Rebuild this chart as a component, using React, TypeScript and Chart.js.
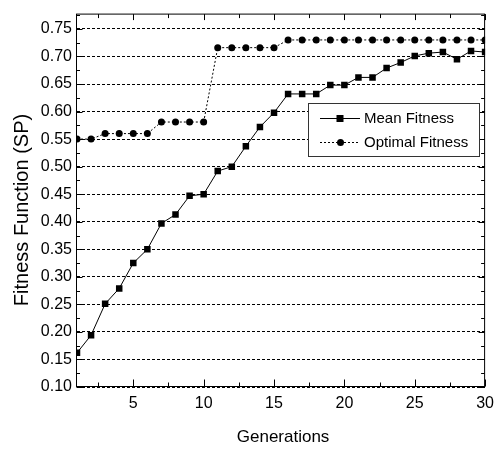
import React, { useEffect, useRef } from 'react';
import { Chart, registerables } from 'chart.js';

Chart.register(...registerables);

const generations = [1, 2, 3, 4, 5, 6, 7, 8, 9, 10, 11, 12, 13, 14, 15, 16, 17, 18, 19, 20, 21, 22, 23, 24, 25, 26, 27, 28, 29, 30];
const meanFitness = [0.162, 0.194, 0.251, 0.279, 0.325, 0.350, 0.397, 0.413, 0.447, 0.450, 0.492, 0.500, 0.537, 0.572, 0.598, 0.632, 0.632, 0.632, 0.648, 0.648, 0.662, 0.662, 0.679, 0.689, 0.701, 0.706, 0.708, 0.695, 0.710, 0.708];
const optimalFitness = [0.550, 0.550, 0.560, 0.560, 0.560, 0.560, 0.581, 0.581, 0.581, 0.581, 0.716, 0.716, 0.716, 0.716, 0.716, 0.730, 0.730, 0.730, 0.730, 0.730, 0.730, 0.730, 0.730, 0.730, 0.730, 0.730, 0.730, 0.730, 0.730, 0.730];

const seriesNames = ['Mean Fitness', 'Optimal Fitness'];
const xTitle = 'Generations';
const yTitle = 'Fitness Function (SP)';

const yTickValues = [0.10, 0.15, 0.20, 0.25, 0.30, 0.35, 0.40, 0.45, 0.50, 0.55, 0.60, 0.65, 0.70, 0.75];
const yMinorTicks = [0.125, 0.175, 0.225, 0.275, 0.325, 0.375, 0.425, 0.475, 0.525, 0.575, 0.625, 0.675, 0.725, 0.775];
const xTickValues = [5, 10, 15, 20, 25, 30];
const xMinorTicks = [2.5, 7.5, 12.5, 17.5, 22.5, 27.5];

const FONT = "'Liberation Sans', Arial, Helvetica, sans-serif";

const decorPlugin = {
  id: 'decor',
  afterDraw(chart: any) {
    const ctx = chart.ctx;
    const { left, right, top, bottom } = chart.chartArea;
    const xs = chart.scales.x;
    const ys = chart.scales.y;
    ctx.save();
    ctx.strokeStyle = '#000';
    ctx.lineWidth = 1;
    ctx.setLineDash([]);
    // frame
    ctx.strokeRect(left - 0.5, top - 0.5, right - left, bottom - top);
    // ticks
    const line = (x1: number, y1: number, x2: number, y2: number) => {
      ctx.beginPath();
      ctx.moveTo(x1, y1);
      ctx.lineTo(x2, y2);
      ctx.stroke();
    };
    yTickValues.forEach((v) => {
      const py = Math.round(ys.getPixelForValue(v)) + 0.5;
      line(left - 0.5, py, left + 5.5, py);
      line(right - 0.5, py, right - 6.5, py);
    });
    yMinorTicks.forEach((v) => {
      const py = Math.round(ys.getPixelForValue(v)) + 0.5;
      if (py < top) return;
      line(left - 0.5, py, left + 3, py);
      line(right - 0.5, py, right - 4, py);
    });
    xTickValues.forEach((v) => {
      const px = Math.round(xs.getPixelForValue(v)) + 0.5;
      line(px, bottom - 0.5, px, bottom - 7.5);
      line(px, top - 0.5, px, top + 5.5);
    });
    xMinorTicks.forEach((v) => {
      const px = Math.round(xs.getPixelForValue(v)) + 0.5;
      line(px, bottom - 0.5, px, bottom - 4.5);
      line(px, top - 0.5, px, top + 3.5);
    });

    // axis titles
    ctx.fillStyle = '#000';
    ctx.textAlign = 'center';
    ctx.textBaseline = 'middle';
    ctx.font = `17px ${FONT}`;
    ctx.fillText(xTitle, (left + right) / 2 + 2, 437);
    ctx.save();
    ctx.translate(22, 210);
    ctx.rotate(-Math.PI / 2);
    ctx.font = `20px ${FONT}`;
    ctx.fillText(yTitle, 0, 0);
    ctx.restore();

    // legend
    const bx = 308.5, by = 103.5, bw = 171, bh = 53;
    ctx.fillStyle = '#fff';
    ctx.fillRect(bx, by, bw, bh);
    ctx.strokeStyle = '#333';
    ctx.strokeRect(bx, by, bw, bh);
    const rows = [
      { y: 118, dash: [] as number[], style: 'rect', r: 4.6 },
      { y: 142, dash: [2, 2], style: 'circle', r: 3.5 },
    ];
    rows.forEach((row, i) => {
      ctx.strokeStyle = '#000';
      ctx.setLineDash(row.dash);
      line(320, row.y + 0.5, 360, row.y + 0.5);
      ctx.setLineDash([]);
      ctx.fillStyle = '#000';
      if (row.style === 'rect') {
        ctx.fillRect(340 - 3.5, row.y - 3, 7, 7);
      } else {
        ctx.beginPath();
        ctx.arc(340.5, row.y + 0.5, row.r, 0, Math.PI * 2);
        ctx.fill();
      }
      ctx.textAlign = 'left';
      ctx.textBaseline = 'middle';
      ctx.font = `15px ${FONT}`;
      ctx.fillText(seriesNames[i], 364, row.y + 1);
    });
    ctx.restore();
  },
};

export default function App() {
  const ref = useRef<HTMLCanvasElement | null>(null);
  useEffect(() => {
    document.body.style.margin = '0';
    const canvas = ref.current;
    if (!canvas) return;
    const chart = new Chart(canvas, {
      type: 'line',
      data: {
        datasets: [
          {
            label: seriesNames[0],
            data: generations.map((g, i) => ({ x: g, y: meanFitness[i] })),
            borderColor: '#000',
            backgroundColor: '#000',
            borderWidth: 1,
            pointStyle: 'rect',
            pointRadius: 4.6,
            pointBorderWidth: 0,
            tension: 0,
            clip: 0,
          },
          {
            label: seriesNames[1],
            data: generations.map((g, i) => ({ x: g, y: optimalFitness[i] })),
            borderColor: '#000',
            backgroundColor: '#000',
            borderWidth: 1,
            borderDash: [2, 2],
            pointStyle: 'circle',
            pointRadius: 3.5,
            pointBorderWidth: 0,
            tension: 0,
            clip: 0,
          },
        ],
      },
      options: {
        responsive: false,
        animation: false,
        devicePixelRatio: 1,
        layout: { padding: { top: 9, right: 14, left: 0, bottom: 0 } },
        plugins: { legend: { display: false }, tooltip: { enabled: false } },
        scales: {
          x: {
            type: 'linear',
            min: 1,
            max: 30,
            afterBuildTicks: (s: any) => {
              s.ticks = xTickValues.map((v) => ({ value: v }));
            },
            afterFit: (s: any) => {
              s.height = 63;
            },
            grid: { display: false, drawTicks: false },
            border: { display: false },
            ticks: {
              color: '#000',
              font: { family: FONT, size: 16 },
              padding: 7,
              maxRotation: 0,
              autoSkip: false,
              callback: (v: any) => String(v),
            },
          },
          y: {
            type: 'linear',
            min: 0.1,
            max: 0.776,
            afterBuildTicks: (s: any) => {
              s.ticks = yTickValues.map((v) => ({ value: v }));
            },
            afterFit: (s: any) => {
              s.width = 77;
            },
            grid: { color: '#000', lineWidth: 1, drawTicks: false },
            border: { display: false, dash: [3, 2] },
            ticks: {
              color: '#000',
              font: { family: FONT, size: 16 },
              padding: 5,
              autoSkip: false,
              callback: (v: any) => Number(v).toFixed(2),
            },
          },
        },
      },
      plugins: [decorPlugin],
    } as any);
    return () => chart.destroy();
  }, []);
  return (
    <div style={{ position: 'absolute', left: 0, top: 0, width: 501, height: 450, background: '#fff' }}>
      <canvas ref={ref} width={501} height={450} />
    </div>
  );
}
